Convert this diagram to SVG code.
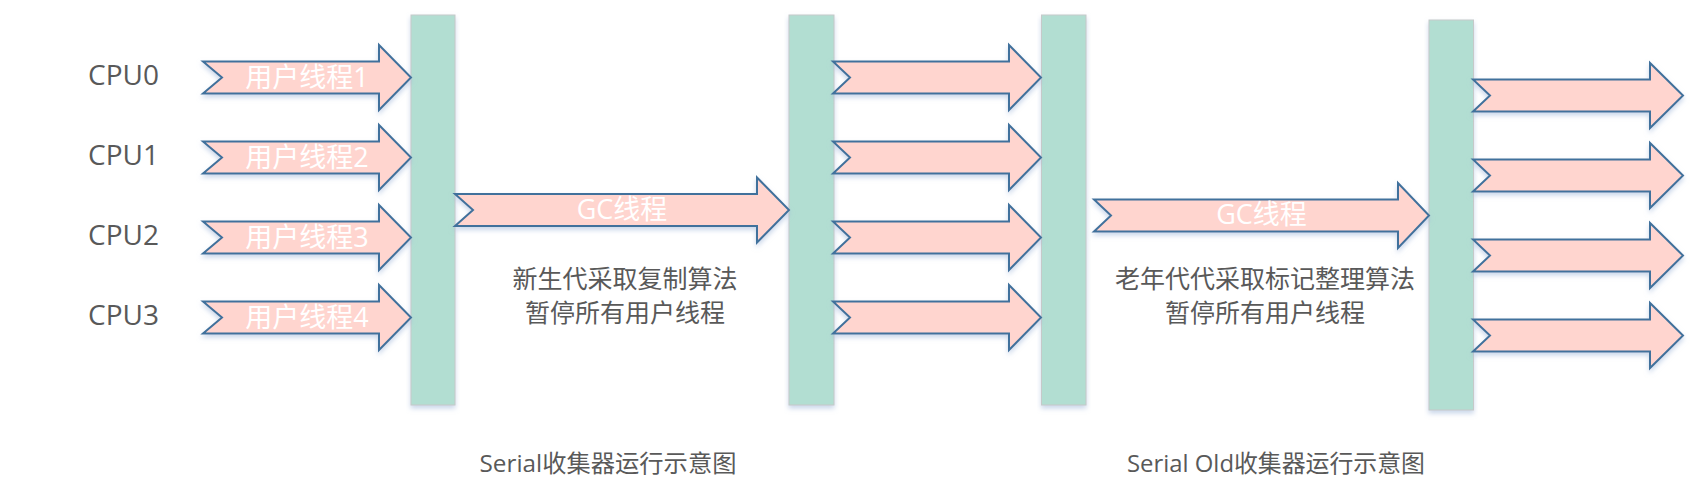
<svg xmlns="http://www.w3.org/2000/svg" width="1695" height="493" viewBox="0 0 1695 493">
<defs>
<filter id="sh" x="-10%" y="-20%" width="120%" height="150%">
<feDropShadow dx="0" dy="3" stdDeviation="2.5" flood-color="#9fb6d9" flood-opacity="0.55"/>
</filter>
<style>
.bar{fill:#b2ded2;stroke:#c6c9c9;stroke-width:1;filter:url(#sh)}
.arr{fill:#ffd5cf;stroke:#41719c;stroke-width:2;stroke-linejoin:miter;filter:url(#sh)}
.cpu{font-family:"Open Sans","Liberation Sans",sans-serif;font-size:28px;fill:#595959}
.lbl{font-family:"Open Sans","Noto Sans CJK SC",sans-serif;font-size:27px;fill:#ffffff;text-anchor:middle}
.desc{font-family:"Open Sans","Noto Sans CJK SC",sans-serif;font-size:25px;fill:#595959;text-anchor:middle}
.cap{font-family:"Open Sans","Noto Sans CJK SC",sans-serif;font-size:24px;fill:#595959;text-anchor:middle}
</style>
</defs>
<rect width="1695" height="493" fill="#ffffff"/>
<g id="labels-cpu">
<text class="cpu" x="88" y="85">CPU0</text>
<text class="cpu" x="88" y="165">CPU1</text>
<text class="cpu" x="88" y="245">CPU2</text>
<text class="cpu" x="88" y="325">CPU3</text>
</g>
<g id="bar1"><rect class="bar" x="411" y="15" width="44" height="390"/></g>
<g id="bar2"><rect class="bar" x="789" y="15" width="45" height="390"/></g>
<g id="bar3"><rect class="bar" x="1041.5" y="15" width="44.5" height="390"/></g>
<g id="bar4"><rect class="bar" x="1429" y="20" width="44.5" height="390"/></g>
<g id="connectors">
<g id="user-threads-in">
<path class="arr" d="M203,61.5 L379,61.5 L379,45 L411,77.5 L379,110 L379,93.5 L203,93.5 L222,77.5 Z"/>
<path class="arr" d="M203,141.5 L379,141.5 L379,125 L411,157.5 L379,190 L379,173.5 L203,173.5 L222,157.5 Z"/>
<path class="arr" d="M203,221.5 L379,221.5 L379,205 L411,237.5 L379,270 L379,253.5 L203,253.5 L222,237.5 Z"/>
<path class="arr" d="M203,301.5 L379,301.5 L379,285 L411,317.5 L379,350 L379,333.5 L203,333.5 L222,317.5 Z"/>
</g>
<g id="gc-thread-1">
<path class="arr" d="M455,194 L757,194 L757,177.5 L789,210 L757,242.5 L757,226 L455,226 L473,210 Z"/>
</g>
<g id="user-threads-mid">
<path class="arr" d="M833,61.5 L1009,61.5 L1009,45 L1041,77.5 L1009,110 L1009,93.5 L833,93.5 L850,77.5 Z"/>
<path class="arr" d="M833,141.5 L1009,141.5 L1009,125 L1041,157.5 L1009,190 L1009,173.5 L833,173.5 L850,157.5 Z"/>
<path class="arr" d="M833,221.5 L1009,221.5 L1009,205 L1041,237.5 L1009,270 L1009,253.5 L833,253.5 L850,237.5 Z"/>
<path class="arr" d="M833,301.5 L1009,301.5 L1009,285 L1041,317.5 L1009,350 L1009,333.5 L833,333.5 L850,317.5 Z"/>
</g>
<g id="gc-thread-2">
<path class="arr" d="M1094,199.5 L1398,199.5 L1398,183 L1429,215.5 L1398,248 L1398,231.5 L1094,231.5 L1111,215.5 Z"/>
</g>
<g id="user-threads-out">
<path class="arr" d="M1473,79.5 L1650,79.5 L1650,63 L1683,95.5 L1650,128 L1650,111.5 L1473,111.5 L1490,95.5 Z"/>
<path class="arr" d="M1473,159.5 L1650,159.5 L1650,143 L1683,175.5 L1650,208 L1650,191.5 L1473,191.5 L1490,175.5 Z"/>
<path class="arr" d="M1473,239.5 L1650,239.5 L1650,223 L1683,255.5 L1650,288 L1650,271.5 L1473,271.5 L1490,255.5 Z"/>
<path class="arr" d="M1473,319.5 L1650,319.5 L1650,303 L1683,335.5 L1650,368 L1650,351.5 L1473,351.5 L1490,335.5 Z"/>
</g>
</g>
<g id="arrow-labels">
<text class="lbl" x="307" y="87">用户线程1</text>
<text class="lbl" x="307" y="167">用户线程2</text>
<text class="lbl" x="307" y="247">用户线程3</text>
<text class="lbl" x="307" y="327">用户线程4</text>
<text class="lbl" x="622" y="219">GC线程</text>
<text class="lbl" x="1261.5" y="224">GC线程</text>
</g>
<g id="desc1">
<text class="desc" x="625" y="288">新生代采取复制算法</text>
<text class="desc" x="625" y="322">暂停所有用户线程</text>
</g>
<g id="desc2">
<text class="desc" x="1265" y="288">老年代代采取标记整理算法</text>
<text class="desc" x="1265" y="322">暂停所有用户线程</text>
</g>
<g id="captions">
<text class="cap" x="608" y="472" textLength="257" lengthAdjust="spacingAndGlyphs">Serial收集器运行示意图</text>
<text class="cap" x="1276" y="472" textLength="298" lengthAdjust="spacingAndGlyphs">Serial Old收集器运行示意图</text>
</g>
</svg>
